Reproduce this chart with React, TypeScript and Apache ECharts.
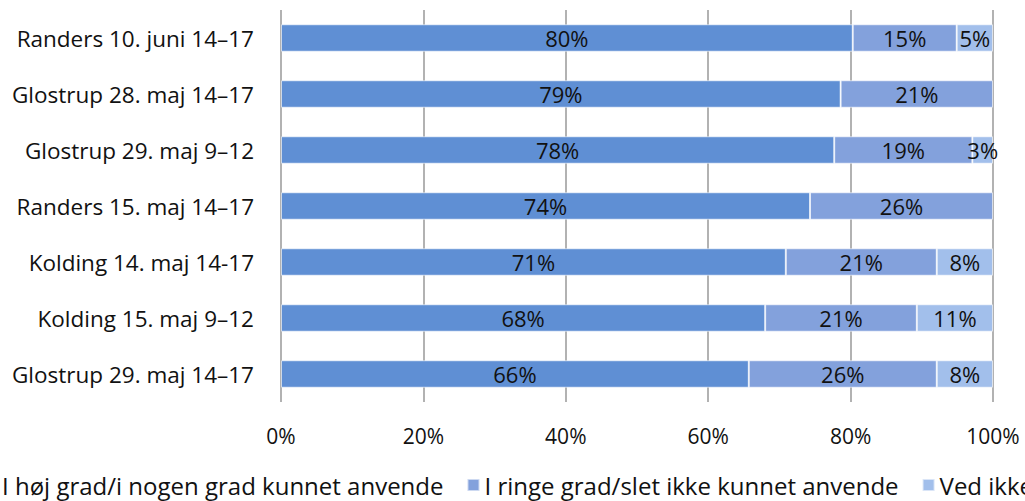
import React, { useEffect, useRef } from "react";
import * as echarts from "echarts";

const categories = [
  "Randers 10. juni 14–17",
  "Glostrup 28. maj 14–17",
  "Glostrup 29. maj 9–12",
  "Randers 15. maj 14–17",
  "Kolding 14. maj 14-17",
  "Kolding 15. maj 9–12",
  "Glostrup 29. maj 14–17",
];
const seriesNames = [
  "I høj grad/i nogen grad kunnet anvende",
  "I ringe grad/slet ikke kunnet anvende",
  "Ved ikke",
];
const highValues = [80.3, 78.6, 77.7, 74.3, 70.9, 68.0, 65.7];
const lowValues = [14.6, 21.4, 19.4, 25.7, 21.2, 21.3, 26.4];
const unknownValues = [5.1, 0, 2.9, 0, 7.9, 10.7, 7.9];
const xTicks = [0, 20, 40, 60, 80, 100];

const colors = ["#5f8fd4", "#83a1dc", "#a2bfeb"];
const FONT = "'Open Sans', Lato, sans-serif";

export default function App() {
  const ref = useRef<HTMLDivElement>(null);
  useEffect(() => {
    if (!ref.current) return;
    const chart = echarts.init(ref.current, null, { renderer: "svg" });
    const data = [highValues, lowValues, unknownValues];
    chart.setOption({
      animation: false,
      textStyle: { fontFamily: FONT },
      grid: { left: 281, right: 32, top: 10, bottom: 99, containLabel: false },
      xAxis: {
        type: "value",
        min: xTicks[0],
        max: xTicks[xTicks.length - 1],
        interval: 20,
        axisLine: { show: false },
        axisTick: { show: false },
        splitLine: { show: true, lineStyle: { color: "#999", width: 1.5 } },
        axisLabel: {
          formatter: (v: number) => `${v}%`,
          color: "#111",
          fontSize: 21,
          fontFamily: FONT,
          margin: 23,
        },
      },
      yAxis: {
        type: "category",
        data: categories,
        inverse: true,
        axisLine: { show: false },
        axisTick: { show: false },
        splitLine: { show: false },
        axisLabel: { color: "#111", fontSize: 22.5, fontFamily: FONT, margin: 27 },
      },
      legend: {
        show: true,
        left: -21,
        top: 468,
        width: 1400,
        itemWidth: 12,
        itemHeight: 12,
        itemGap: 23,
        icon: "rect",
        textStyle: { color: "#111", fontSize: 24, fontFamily: FONT },
        data: seriesNames,
      },
      series: seriesNames.map((name, i) => ({
        name,
        type: "bar",
        stack: "total",
        barWidth: "49%",
        data: data[i].map((v) => (v > 0 ? v : null)),
        itemStyle: { color: colors[i], borderColor: "rgba(255,255,255,0.6)", borderWidth: 1 },
        label: {
          show: true,
          position: "inside",
          formatter: (p: any) => `${Math.round(p.value)}%`,
          color: "#111",
          fontSize: 22,
          fontFamily: FONT,
        },
      })),
    });
    return () => chart.dispose();
  }, []);
  return <div ref={ref} style={{ width: 1025, height: 501, position: "absolute", left: 0, top: 0 }} />;
}
